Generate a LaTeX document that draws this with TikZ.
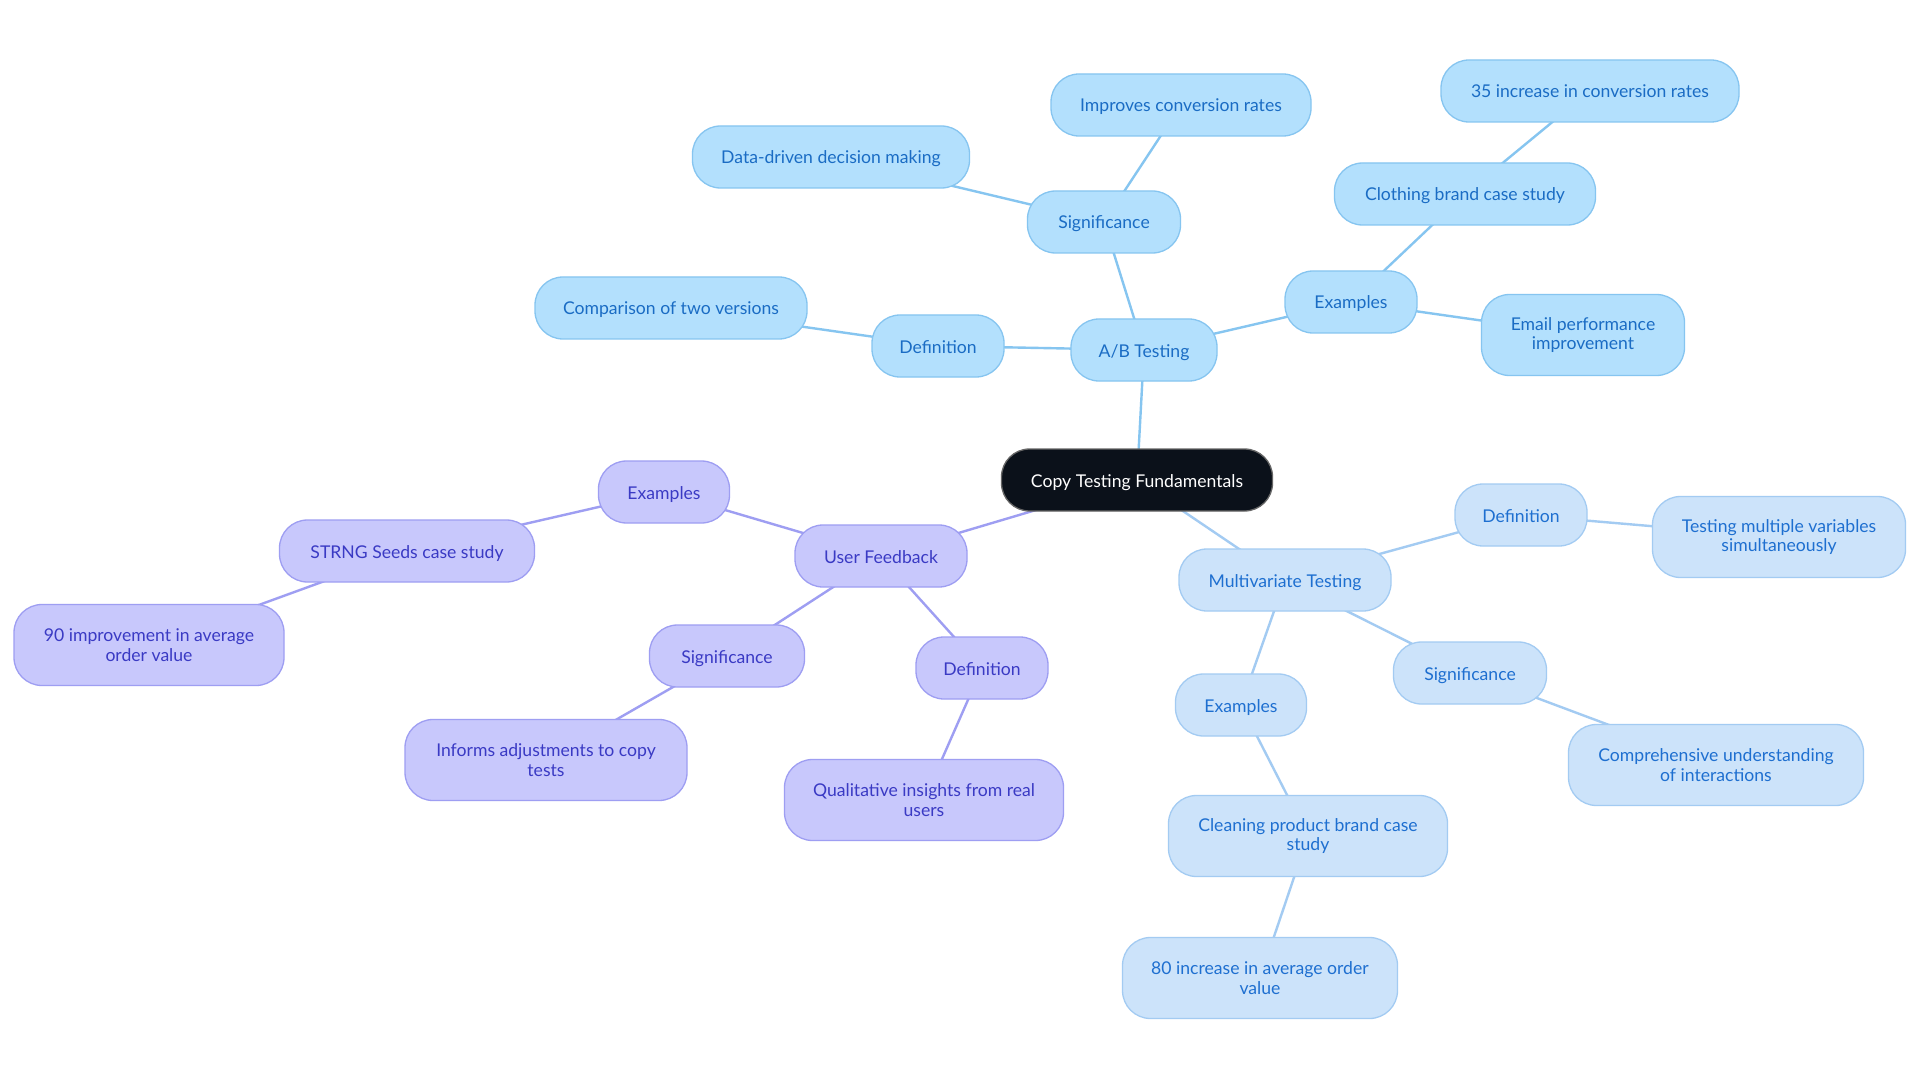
\documentclass[tikz,border=0pt]{standalone}
\usepackage{fontspec}
\setmainfont{Lato}
\usetikzlibrary{backgrounds}
\definecolor{abfill}{HTML}{B3E0FD}
\definecolor{abdraw}{HTML}{86C5F0}
\definecolor{abtext}{HTML}{1A6CC4}
\definecolor{mvfill}{HTML}{CCE3FA}
\definecolor{mvdraw}{HTML}{A3CBF2}
\definecolor{mvtext}{HTML}{1E6FD0}
\definecolor{uffill}{HTML}{C8C8FC}
\definecolor{ufdraw}{HTML}{9E9EF2}
\definecolor{uftext}{HTML}{3A3AC4}
\definecolor{rootfill}{HTML}{0B111A}
\tikzset{
  base/.style={rectangle, rounded corners=28pt, line width=1.3pt, align=center,
    minimum height=62pt, inner sep=0pt, text height=16pt, text depth=2pt,
    font=\fontsize{17.6}{19.6}\selectfont},
  tall/.style={minimum height=81pt, text height=, text depth=},
  abnode/.style={base, fill=abfill, draw=abdraw, text=abtext},
  mvnode/.style={base, fill=mvfill, draw=mvdraw, text=mvtext},
  ufnode/.style={base, fill=uffill, draw=ufdraw, text=uftext},
  rootnode/.style={base, fill=rootfill, draw=black!60, text=white},
  abline/.style={draw=abdraw, line width=2.4pt},
  mvline/.style={draw=mvdraw, line width=2.4pt},
  ufline/.style={draw=ufdraw, line width=2.4pt},
}
\begin{document}
\begin{tikzpicture}[x=1pt,y=-1pt]
\useasboundingbox (0,0) rectangle (1920,1083);
% root
\node[rootnode, minimum width=271pt] (root) at (1137,480) {Copy Testing Fundamentals};
% A/B Testing branch
\node[abnode, minimum width=146pt] (ab) at (1144,350) {A/B Testing};
\node[abnode, minimum width=132pt] (abdef) at (938,346) {Definition};
\node[abnode, minimum width=272pt] (abcmp) at (671,308) {Comparison of two versions};
\node[abnode, minimum width=153pt] (absig) at (1104,222) {Significance};
\node[abnode, minimum width=277pt] (abdata) at (831,157) {Data-driven decision making};
\node[abnode, minimum width=260pt] (abimp) at (1181,105) {Improves conversion rates};
\node[abnode, minimum width=132pt] (abex) at (1351,302) {Examples};
\node[abnode, minimum width=261pt] (abcloth) at (1465,194) {Clothing brand case study};
\node[abnode, minimum width=298pt] (abthirty) at (1590,91) {35 increase in conversion rates};
\node[abnode, tall, minimum width=203pt] (abemail) at (1583,335) {Email performance\\improvement};
% Multivariate branch
\node[mvnode, minimum width=212pt] (mv) at (1285,580) {Multivariate Testing};
\node[mvnode, minimum width=132pt] (mvdef) at (1521,515) {Definition};
\node[mvnode, tall, minimum width=253pt] (mvtest) at (1779,537) {Testing multiple variables\\simultaneously};
\node[mvnode, minimum width=153pt] (mvsig) at (1470,673) {Significance};
\node[mvnode, tall, minimum width=295pt] (mvcomp) at (1716,765) {Comprehensive understanding\\of interactions};
\node[mvnode, minimum width=131pt] (mvex) at (1241,705) {Examples};
\node[mvnode, tall, minimum width=279pt] (mvclean) at (1308,836) {Cleaning product brand case\\study};
\node[mvnode, tall, minimum width=275pt] (mveighty) at (1260,978) {80 increase in average order\\value};
% User Feedback branch
\node[ufnode, minimum width=172pt] (uf) at (881,556) {User Feedback};
\node[ufnode, minimum width=131pt] (ufex) at (664,492) {Examples};
\node[ufnode, minimum width=255pt] (ufstrng) at (407,551) {STRNG Seeds case study};
\node[ufnode, tall, minimum width=270pt] (ufninety) at (149,645) {90 improvement in average\\order value};
\node[ufnode, minimum width=155pt] (ufsig) at (727,656) {Significance};
\node[ufnode, tall, minimum width=282pt] (ufinf) at (546,760) {Informs adjustments to copy\\tests};
\node[ufnode, minimum width=132pt] (ufdef) at (982,668) {Definition};
\node[ufnode, tall, minimum width=279pt] (ufqual) at (924,800) {Qualitative insights from real\\users};
% connectors
\begin{scope}[on background layer]
\fill[white] (0,0) rectangle (1920,1083);
\draw[abline] (root.center) -- (ab.center);
\draw[abline] (ab.center) -- (abdef.center);
\draw[abline] (abdef.center) -- (abcmp.center);
\draw[abline] (ab.center) -- (absig.center);
\draw[abline] (absig.center) -- (abdata.center);
\draw[abline] (absig.center) -- (abimp.center);
\draw[abline] (ab.center) -- (abex.center);
\draw[abline] (abex.center) -- (abcloth.center);
\draw[abline] (abcloth.center) -- (abthirty.center);
\draw[abline] (abex.center) -- (abemail.center);
\draw[mvline] (root.center) -- (mv.center);
\draw[mvline] (mv.center) -- (mvdef.center);
\draw[mvline] (mvdef.center) -- (mvtest.center);
\draw[mvline] (mv.center) -- (mvsig.center);
\draw[mvline] (mvsig.center) -- (mvcomp.center);
\draw[mvline] (mv.center) -- (mvex.center);
\draw[mvline] (mvex.center) -- (mvclean.center);
\draw[mvline] (mvclean.center) -- (mveighty.center);
\draw[ufline] (root.center) -- (uf.center);
\draw[ufline] (uf.center) -- (ufex.center);
\draw[ufline] (ufex.center) -- (ufstrng.center);
\draw[ufline] (ufstrng.center) -- (ufninety.center);
\draw[ufline] (uf.center) -- (ufsig.center);
\draw[ufline] (ufsig.center) -- (ufinf.center);
\draw[ufline] (uf.center) -- (ufdef.center);
\draw[ufline] (ufdef.center) -- (ufqual.center);
\end{scope}
\end{tikzpicture}
\end{document}
